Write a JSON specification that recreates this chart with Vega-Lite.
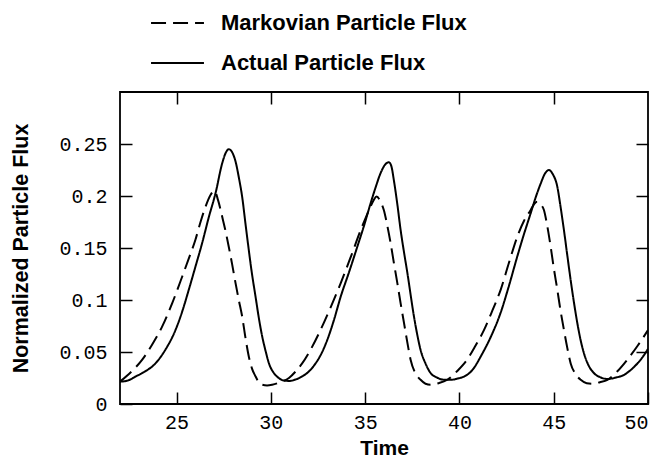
{
  "$schema": "https://vega.github.io/schema/vega-lite/v6.json",
  "width": 528,
  "height": 312,
  "autosize": {"type": "none"},
  "padding": {"left": 120, "top": 92, "right": 13, "bottom": 56},
  "background": "white",
  "config": {
    "view": {"stroke": "black", "strokeWidth": 1.8},
    "axis": {
      "domain": false,
      "grid": false,
      "ticks": true,
      "tickColor": "black",
      "tickWidth": 1.5,
      "tickSize": -12,
      "labelColor": "black",
      "labelFont": "Liberation Mono",
      "labelFontSize": 20,
      "titleColor": "black",
      "titleFont": "Liberation Sans",
      "titleFontWeight": "bold",
      "titleFontSize": 21
    }
  },
  "data": {
    "values": [
      {"t": 22.0, "f": 0.0215, "s": "Actual Particle Flux"},
      {"t": 22.4, "f": 0.0225, "s": "Actual Particle Flux"},
      {"t": 22.8, "f": 0.0262, "s": "Actual Particle Flux"},
      {"t": 23.3, "f": 0.031, "s": "Actual Particle Flux"},
      {"t": 23.88, "f": 0.039, "s": "Actual Particle Flux"},
      {"t": 24.4, "f": 0.052, "s": "Actual Particle Flux"},
      {"t": 24.94, "f": 0.071, "s": "Actual Particle Flux"},
      {"t": 25.3, "f": 0.089, "s": "Actual Particle Flux"},
      {"t": 25.65, "f": 0.110, "s": "Actual Particle Flux"},
      {"t": 26.0, "f": 0.132, "s": "Actual Particle Flux"},
      {"t": 26.36, "f": 0.155, "s": "Actual Particle Flux"},
      {"t": 26.7, "f": 0.179, "s": "Actual Particle Flux"},
      {"t": 27.07, "f": 0.203, "s": "Actual Particle Flux"},
      {"t": 27.42, "f": 0.2315, "s": "Actual Particle Flux"},
      {"t": 27.62, "f": 0.242, "s": "Actual Particle Flux"},
      {"t": 27.77, "f": 0.245, "s": "Actual Particle Flux"},
      {"t": 27.95, "f": 0.242, "s": "Actual Particle Flux"},
      {"t": 28.13, "f": 0.233, "s": "Actual Particle Flux"},
      {"t": 28.3, "f": 0.218, "s": "Actual Particle Flux"},
      {"t": 28.48, "f": 0.199, "s": "Actual Particle Flux"},
      {"t": 28.65, "f": 0.174, "s": "Actual Particle Flux"},
      {"t": 28.83, "f": 0.148, "s": "Actual Particle Flux"},
      {"t": 29.0, "f": 0.125, "s": "Actual Particle Flux"},
      {"t": 29.19, "f": 0.103, "s": "Actual Particle Flux"},
      {"t": 29.36, "f": 0.083, "s": "Actual Particle Flux"},
      {"t": 29.54, "f": 0.065, "s": "Actual Particle Flux"},
      {"t": 29.72, "f": 0.051, "s": "Actual Particle Flux"},
      {"t": 29.9, "f": 0.039, "s": "Actual Particle Flux"},
      {"t": 30.15, "f": 0.030, "s": "Actual Particle Flux"},
      {"t": 30.42, "f": 0.025, "s": "Actual Particle Flux"},
      {"t": 30.7, "f": 0.0225, "s": "Actual Particle Flux"},
      {"t": 31.0, "f": 0.0222, "s": "Actual Particle Flux"},
      {"t": 31.3, "f": 0.0235, "s": "Actual Particle Flux"},
      {"t": 31.66, "f": 0.0265, "s": "Actual Particle Flux"},
      {"t": 32.0, "f": 0.031, "s": "Actual Particle Flux"},
      {"t": 32.37, "f": 0.039, "s": "Actual Particle Flux"},
      {"t": 32.64, "f": 0.047, "s": "Actual Particle Flux"},
      {"t": 33.0, "f": 0.062, "s": "Actual Particle Flux"},
      {"t": 33.35, "f": 0.081, "s": "Actual Particle Flux"},
      {"t": 33.7, "f": 0.103, "s": "Actual Particle Flux"},
      {"t": 34.15, "f": 0.127, "s": "Actual Particle Flux"},
      {"t": 34.58, "f": 0.151, "s": "Actual Particle Flux"},
      {"t": 34.95, "f": 0.172, "s": "Actual Particle Flux"},
      {"t": 35.29, "f": 0.193, "s": "Actual Particle Flux"},
      {"t": 35.55, "f": 0.208, "s": "Actual Particle Flux"},
      {"t": 35.82, "f": 0.222, "s": "Actual Particle Flux"},
      {"t": 36.05, "f": 0.230, "s": "Actual Particle Flux"},
      {"t": 36.26, "f": 0.2325, "s": "Actual Particle Flux"},
      {"t": 36.4, "f": 0.228, "s": "Actual Particle Flux"},
      {"t": 36.52, "f": 0.2155, "s": "Actual Particle Flux"},
      {"t": 36.7, "f": 0.193, "s": "Actual Particle Flux"},
      {"t": 36.88, "f": 0.1675, "s": "Actual Particle Flux"},
      {"t": 37.06, "f": 0.146, "s": "Actual Particle Flux"},
      {"t": 37.24, "f": 0.126, "s": "Actual Particle Flux"},
      {"t": 37.42, "f": 0.104, "s": "Actual Particle Flux"},
      {"t": 37.59, "f": 0.084, "s": "Actual Particle Flux"},
      {"t": 37.76, "f": 0.067, "s": "Actual Particle Flux"},
      {"t": 37.94, "f": 0.052, "s": "Actual Particle Flux"},
      {"t": 38.2, "f": 0.039, "s": "Actual Particle Flux"},
      {"t": 38.47, "f": 0.0298, "s": "Actual Particle Flux"},
      {"t": 38.8, "f": 0.0255, "s": "Actual Particle Flux"},
      {"t": 39.1, "f": 0.0235, "s": "Actual Particle Flux"},
      {"t": 39.53, "f": 0.0232, "s": "Actual Particle Flux"},
      {"t": 39.9, "f": 0.0245, "s": "Actual Particle Flux"},
      {"t": 40.2, "f": 0.026, "s": "Actual Particle Flux"},
      {"t": 40.7, "f": 0.033, "s": "Actual Particle Flux"},
      {"t": 41.2, "f": 0.048, "s": "Actual Particle Flux"},
      {"t": 41.7, "f": 0.066, "s": "Actual Particle Flux"},
      {"t": 42.19, "f": 0.088, "s": "Actual Particle Flux"},
      {"t": 42.6, "f": 0.112, "s": "Actual Particle Flux"},
      {"t": 43.07, "f": 0.142, "s": "Actual Particle Flux"},
      {"t": 43.4, "f": 0.162, "s": "Actual Particle Flux"},
      {"t": 43.78, "f": 0.1835, "s": "Actual Particle Flux"},
      {"t": 44.05, "f": 0.199, "s": "Actual Particle Flux"},
      {"t": 44.31, "f": 0.212, "s": "Actual Particle Flux"},
      {"t": 44.55, "f": 0.222, "s": "Actual Particle Flux"},
      {"t": 44.75, "f": 0.225, "s": "Actual Particle Flux"},
      {"t": 44.95, "f": 0.221, "s": "Actual Particle Flux"},
      {"t": 45.19, "f": 0.209, "s": "Actual Particle Flux"},
      {"t": 45.36, "f": 0.190, "s": "Actual Particle Flux"},
      {"t": 45.54, "f": 0.1675, "s": "Actual Particle Flux"},
      {"t": 45.72, "f": 0.143, "s": "Actual Particle Flux"},
      {"t": 45.9, "f": 0.119, "s": "Actual Particle Flux"},
      {"t": 46.07, "f": 0.098, "s": "Actual Particle Flux"},
      {"t": 46.25, "f": 0.078, "s": "Actual Particle Flux"},
      {"t": 46.42, "f": 0.062, "s": "Actual Particle Flux"},
      {"t": 46.6, "f": 0.049, "s": "Actual Particle Flux"},
      {"t": 46.85, "f": 0.037, "s": "Actual Particle Flux"},
      {"t": 47.13, "f": 0.0298, "s": "Actual Particle Flux"},
      {"t": 47.5, "f": 0.0255, "s": "Actual Particle Flux"},
      {"t": 47.85, "f": 0.024, "s": "Actual Particle Flux"},
      {"t": 48.3, "f": 0.0255, "s": "Actual Particle Flux"},
      {"t": 48.73, "f": 0.028, "s": "Actual Particle Flux"},
      {"t": 49.1, "f": 0.033, "s": "Actual Particle Flux"},
      {"t": 49.44, "f": 0.039, "s": "Actual Particle Flux"},
      {"t": 49.75, "f": 0.046, "s": "Actual Particle Flux"},
      {"t": 50.0, "f": 0.053, "s": "Actual Particle Flux"},
      {"t": 22.0, "f": 0.0215, "s": "Markovian Particle Flux"},
      {"t": 22.6, "f": 0.031, "s": "Markovian Particle Flux"},
      {"t": 23.18, "f": 0.0426, "s": "Markovian Particle Flux"},
      {"t": 23.7, "f": 0.057, "s": "Markovian Particle Flux"},
      {"t": 24.24, "f": 0.0746, "s": "Markovian Particle Flux"},
      {"t": 24.77, "f": 0.097, "s": "Markovian Particle Flux"},
      {"t": 25.3, "f": 0.1226, "s": "Markovian Particle Flux"},
      {"t": 25.65, "f": 0.140, "s": "Markovian Particle Flux"},
      {"t": 26.0, "f": 0.158, "s": "Markovian Particle Flux"},
      {"t": 26.27, "f": 0.175, "s": "Markovian Particle Flux"},
      {"t": 26.54, "f": 0.19, "s": "Markovian Particle Flux"},
      {"t": 26.8, "f": 0.201, "s": "Markovian Particle Flux"},
      {"t": 27.01, "f": 0.205, "s": "Markovian Particle Flux"},
      {"t": 27.2, "f": 0.196, "s": "Markovian Particle Flux"},
      {"t": 27.42, "f": 0.180, "s": "Markovian Particle Flux"},
      {"t": 27.6, "f": 0.166, "s": "Markovian Particle Flux"},
      {"t": 27.77, "f": 0.151, "s": "Markovian Particle Flux"},
      {"t": 27.95, "f": 0.134, "s": "Markovian Particle Flux"},
      {"t": 28.13, "f": 0.116, "s": "Markovian Particle Flux"},
      {"t": 28.3, "f": 0.100, "s": "Markovian Particle Flux"},
      {"t": 28.48, "f": 0.084, "s": "Markovian Particle Flux"},
      {"t": 28.65, "f": 0.064, "s": "Markovian Particle Flux"},
      {"t": 28.83, "f": 0.0457, "s": "Markovian Particle Flux"},
      {"t": 29.0, "f": 0.034, "s": "Markovian Particle Flux"},
      {"t": 29.19, "f": 0.0265, "s": "Markovian Particle Flux"},
      {"t": 29.36, "f": 0.021, "s": "Markovian Particle Flux"},
      {"t": 29.54, "f": 0.0185, "s": "Markovian Particle Flux"},
      {"t": 29.8, "f": 0.0178, "s": "Markovian Particle Flux"},
      {"t": 30.07, "f": 0.0185, "s": "Markovian Particle Flux"},
      {"t": 30.5, "f": 0.021, "s": "Markovian Particle Flux"},
      {"t": 30.96, "f": 0.025, "s": "Markovian Particle Flux"},
      {"t": 31.3, "f": 0.031, "s": "Markovian Particle Flux"},
      {"t": 31.66, "f": 0.039, "s": "Markovian Particle Flux"},
      {"t": 32.1, "f": 0.052, "s": "Markovian Particle Flux"},
      {"t": 32.64, "f": 0.0714, "s": "Markovian Particle Flux"},
      {"t": 33.17, "f": 0.093, "s": "Markovian Particle Flux"},
      {"t": 33.7, "f": 0.116, "s": "Markovian Particle Flux"},
      {"t": 34.25, "f": 0.142, "s": "Markovian Particle Flux"},
      {"t": 34.77, "f": 0.1675, "s": "Markovian Particle Flux"},
      {"t": 35.05, "f": 0.180, "s": "Markovian Particle Flux"},
      {"t": 35.29, "f": 0.19, "s": "Markovian Particle Flux"},
      {"t": 35.45, "f": 0.196, "s": "Markovian Particle Flux"},
      {"t": 35.61, "f": 0.1995, "s": "Markovian Particle Flux"},
      {"t": 35.8, "f": 0.195, "s": "Markovian Particle Flux"},
      {"t": 35.99, "f": 0.1866, "s": "Markovian Particle Flux"},
      {"t": 36.17, "f": 0.172, "s": "Markovian Particle Flux"},
      {"t": 36.35, "f": 0.1547, "s": "Markovian Particle Flux"},
      {"t": 36.53, "f": 0.135, "s": "Markovian Particle Flux"},
      {"t": 36.71, "f": 0.116, "s": "Markovian Particle Flux"},
      {"t": 36.88, "f": 0.097, "s": "Markovian Particle Flux"},
      {"t": 37.06, "f": 0.078, "s": "Markovian Particle Flux"},
      {"t": 37.23, "f": 0.060, "s": "Markovian Particle Flux"},
      {"t": 37.41, "f": 0.0426, "s": "Markovian Particle Flux"},
      {"t": 37.65, "f": 0.030, "s": "Markovian Particle Flux"},
      {"t": 37.94, "f": 0.0233, "s": "Markovian Particle Flux"},
      {"t": 38.2, "f": 0.0195, "s": "Markovian Particle Flux"},
      {"t": 38.47, "f": 0.0185, "s": "Markovian Particle Flux"},
      {"t": 38.9, "f": 0.020, "s": "Markovian Particle Flux"},
      {"t": 39.36, "f": 0.0233, "s": "Markovian Particle Flux"},
      {"t": 39.9, "f": 0.032, "s": "Markovian Particle Flux"},
      {"t": 40.42, "f": 0.043, "s": "Markovian Particle Flux"},
      {"t": 40.85, "f": 0.056, "s": "Markovian Particle Flux"},
      {"t": 41.3, "f": 0.071, "s": "Markovian Particle Flux"},
      {"t": 41.75, "f": 0.090, "s": "Markovian Particle Flux"},
      {"t": 42.19, "f": 0.110, "s": "Markovian Particle Flux"},
      {"t": 42.63, "f": 0.136, "s": "Markovian Particle Flux"},
      {"t": 43.07, "f": 0.161, "s": "Markovian Particle Flux"},
      {"t": 43.42, "f": 0.176, "s": "Markovian Particle Flux"},
      {"t": 43.78, "f": 0.1866, "s": "Markovian Particle Flux"},
      {"t": 43.95, "f": 0.192, "s": "Markovian Particle Flux"},
      {"t": 44.13, "f": 0.1946, "s": "Markovian Particle Flux"},
      {"t": 44.3, "f": 0.192, "s": "Markovian Particle Flux"},
      {"t": 44.48, "f": 0.1866, "s": "Markovian Particle Flux"},
      {"t": 44.66, "f": 0.171, "s": "Markovian Particle Flux"},
      {"t": 44.84, "f": 0.151, "s": "Markovian Particle Flux"},
      {"t": 45.01, "f": 0.130, "s": "Markovian Particle Flux"},
      {"t": 45.19, "f": 0.110, "s": "Markovian Particle Flux"},
      {"t": 45.36, "f": 0.090, "s": "Markovian Particle Flux"},
      {"t": 45.54, "f": 0.0714, "s": "Markovian Particle Flux"},
      {"t": 45.72, "f": 0.054, "s": "Markovian Particle Flux"},
      {"t": 45.9, "f": 0.039, "s": "Markovian Particle Flux"},
      {"t": 46.15, "f": 0.029, "s": "Markovian Particle Flux"},
      {"t": 46.43, "f": 0.0233, "s": "Markovian Particle Flux"},
      {"t": 46.75, "f": 0.020, "s": "Markovian Particle Flux"},
      {"t": 47.05, "f": 0.0195, "s": "Markovian Particle Flux"},
      {"t": 47.45, "f": 0.021, "s": "Markovian Particle Flux"},
      {"t": 47.85, "f": 0.0233, "s": "Markovian Particle Flux"},
      {"t": 48.35, "f": 0.031, "s": "Markovian Particle Flux"},
      {"t": 48.9, "f": 0.0426, "s": "Markovian Particle Flux"},
      {"t": 49.45, "f": 0.056, "s": "Markovian Particle Flux"},
      {"t": 50.0, "f": 0.071, "s": "Markovian Particle Flux"}
    ]
  },
  "layer": [
    {
      "mark": {"type": "line", "color": "black", "strokeWidth": 2, "interpolate": "monotone", "clip": true},
      "encoding": {
        "x": {
          "field": "t", "type": "quantitative",
          "scale": {"domain": [22, 50], "nice": false, "zero": false},
          "axis": {"orient": "bottom", "title": "Time", "values": [25, 30, 35, 40, 45, 50], "labelPadding": 20, "titlePadding": 5}
        },
        "y": {
          "field": "f", "type": "quantitative",
          "scale": {"domain": [0, 0.3], "nice": false},
          "axis": {"orient": "left", "title": "Normalized Particle Flux", "titleFontSize": 21.5, "values": [0, 0.05, 0.1, 0.15, 0.2, 0.25], "format": "~g", "labelPadding": 25, "titlePadding": 26}
        },
        "strokeDash": {
          "field": "s", "type": "nominal",
          "scale": {"domain": ["Markovian Particle Flux", "Actual Particle Flux"], "range": [[15, 7], [1, 0]]},
          "legend": {
            "orient": "none",
            "legendX": 30,
            "legendY": -80,
            "title": null,
            "direction": "vertical",
            "padding": 0,
            "symbolType": "stroke",
            "symbolSize": 2800,
            "symbolStrokeWidth": 2,
            "symbolStrokeColor": "black",
            "symbolDash": [7, 6],
            "clipHeight": 22,
            "rowPadding": 18,
            "labelOffset": 16,
            "labelFont": "Liberation Sans",
            "labelFontWeight": "bold",
            "labelFontSize": 22,
            "labelColor": "black",
            "labelLimit": 400
          }
        }
      }
    },
    {
      "mark": {"type": "line", "opacity": 0, "interpolate": "monotone"},
      "encoding": {
        "x": {
          "field": "t", "type": "quantitative",
          "axis": {"orient": "top", "title": null, "labels": false, "values": [25, 30, 35, 40, 45]}
        },
        "y": {
          "field": "f", "type": "quantitative",
          "axis": {"orient": "right", "title": null, "labels": false, "values": [0.05, 0.1, 0.15, 0.2, 0.25]}
        },
        "detail": {"field": "s"}
      }
    }
  ],
  "resolve": {"axis": {"x": "independent", "y": "independent"}}
}
